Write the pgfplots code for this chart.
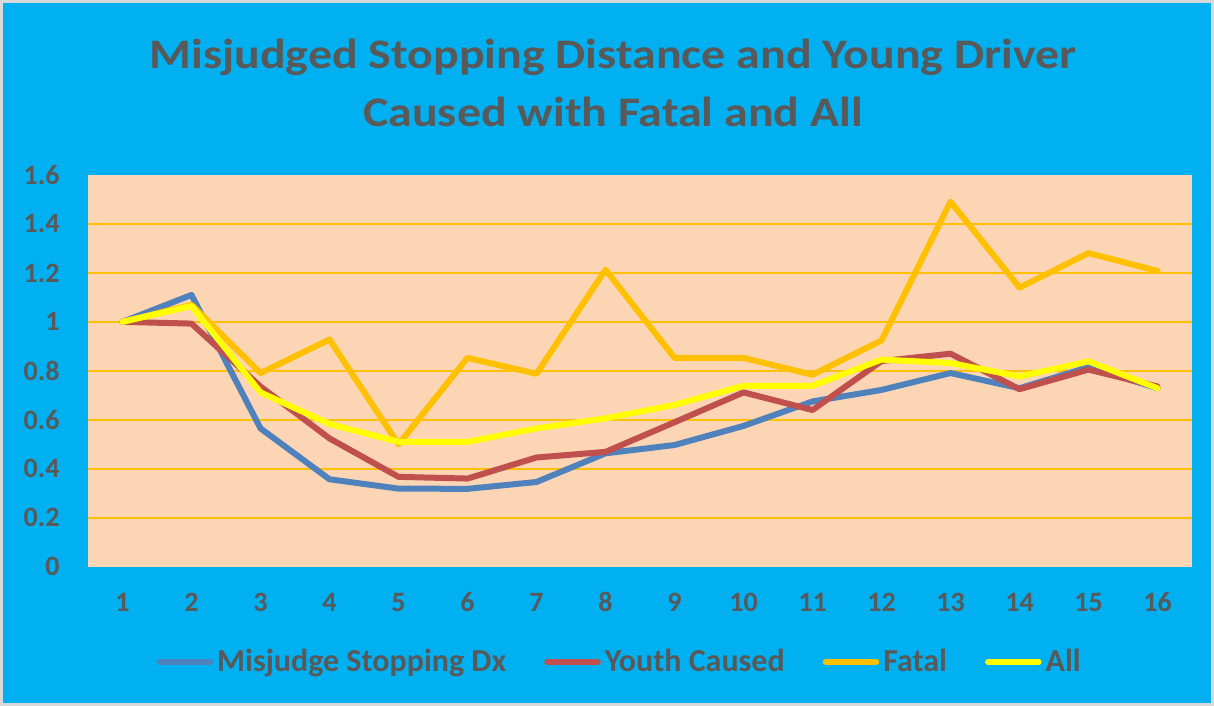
\documentclass[border=0pt]{standalone}
\usepackage{pgfplots}
\pgfplotsset{compat=1.18}
\usepackage{fontspec}
\setmainfont{Carlito}
\newfontfamily\titlefont[FakeStretch=1.14]{Carlito}
\definecolor{bgblue}{HTML}{00B0F0}
\definecolor{peach}{HTML}{FCD5B5}
\definecolor{gridor}{HTML}{FFC000}
\definecolor{txtgray}{HTML}{595959}
\definecolor{sblue}{HTML}{4F81BD}
\definecolor{sred}{HTML}{C0504D}
\definecolor{sorange}{HTML}{FFC000}
\definecolor{syellow}{HTML}{FFFF00}
\definecolor{bordergray}{HTML}{D9D9D9}
\begin{document}
\begin{tikzpicture}
\fill[bordergray] (0,0) rectangle (607bp,353bp);
\fill[bgblue] (1.5bp,1.5bp) rectangle (605.5bp,351.5bp);
\node[anchor=base, font=\titlefont\fontsize{21bp}{25bp}\selectfont\bfseries, text=txtgray] at (306.5bp,318.8bp) {Misjudged Stopping Distance and Young Driver};
\node[anchor=base, font=\titlefont\fontsize{21bp}{25bp}\selectfont\bfseries, text=txtgray] at (306.5bp,289.6bp) {Caused with Fatal and All};
\begin{axis}[
  at={(44bp,69.65bp)}, anchor=south west,
  scale only axis, width=552bp, height=195.85bp,
  xmin=0.5, xmax=16.5, ymin=0, ymax=1.6,
  axis line style={draw=none},
  axis background/.style={fill=peach},
  xtick={1,2,3,4,5,6,7,8,9,10,11,12,13,14,15,16},
  ytick={0,0.2,0.4,0.6,0.8,1,1.2,1.4,1.6},
  major tick length=0pt,
  extra y ticks={0.2,0.4,0.6,0.8,1,1.2,1.4},
  extra y tick labels={},
  extra y tick style={grid=major, major grid style={draw=gridor, line width=0.9bp}},
  /pgf/number format/assume math mode=true,
  ticklabel style={font=\fontsize{14bp}{16bp}\selectfont\bfseries, text=txtgray},
  xticklabel style={anchor=base, yshift=-22.5bp},
  yticklabel style={anchor=east, inner sep=0pt, xshift=-14bp},
  legend columns=4,
  legend style={draw=none, fill=none, at={(0.4825,-0.2433)}, anchor=center,
    font=\fontsize{16bp}{18bp}\selectfont\bfseries, text=txtgray,
    /tikz/every even column/.append style={column sep=17bp},
    nodes={inner xsep=2bp, inner ysep=1bp}},
  legend image code/.code={\draw[#1, line width=3.3bp, line cap=round] (0bp,0bp) -- (25bp,0bp);},
  every axis plot/.append style={line width=3bp, line join=round, line cap=round},
]
\addplot[color=sblue] coordinates {(1,1.0) (2,1.110) (3,0.565) (4,0.357) (5,0.319) (6,0.318) (7,0.346) (8,0.463) (9,0.497) (10,0.575) (11,0.675) (12,0.722) (13,0.791) (14,0.729) (15,0.815) (16,0.729)};
\addlegendentry{Misjudge Stopping Dx}
\addplot[color=sred] coordinates {(1,1.0) (2,0.993) (3,0.736) (4,0.524) (5,0.367) (6,0.360) (7,0.446) (8,0.469) (9,0.590) (10,0.712) (11,0.640) (12,0.840) (13,0.870) (14,0.725) (15,0.805) (16,0.736)};
\addlegendentry{Youth Caused}
\addplot[color=sorange] coordinates {(1,1.0) (2,1.07) (3,0.791) (4,0.928) (5,0.500) (6,0.853) (7,0.788) (8,1.213) (9,0.853) (10,0.853) (11,0.784) (12,0.924) (13,1.491) (14,1.140) (15,1.281) (16,1.208)};
\addlegendentry{Fatal}
\addplot[color=syellow] coordinates {(1,1.0) (2,1.065) (3,0.712) (4,0.583) (5,0.510) (6,0.510) (7,0.565) (8,0.606) (9,0.661) (10,0.739) (11,0.739) (12,0.846) (13,0.832) (14,0.777) (15,0.839) (16,0.729)};
\addlegendentry{All}
\end{axis}
\pgfresetboundingbox
\useasboundingbox (0,0) rectangle (607bp,353bp);
\end{tikzpicture}
\end{document}
